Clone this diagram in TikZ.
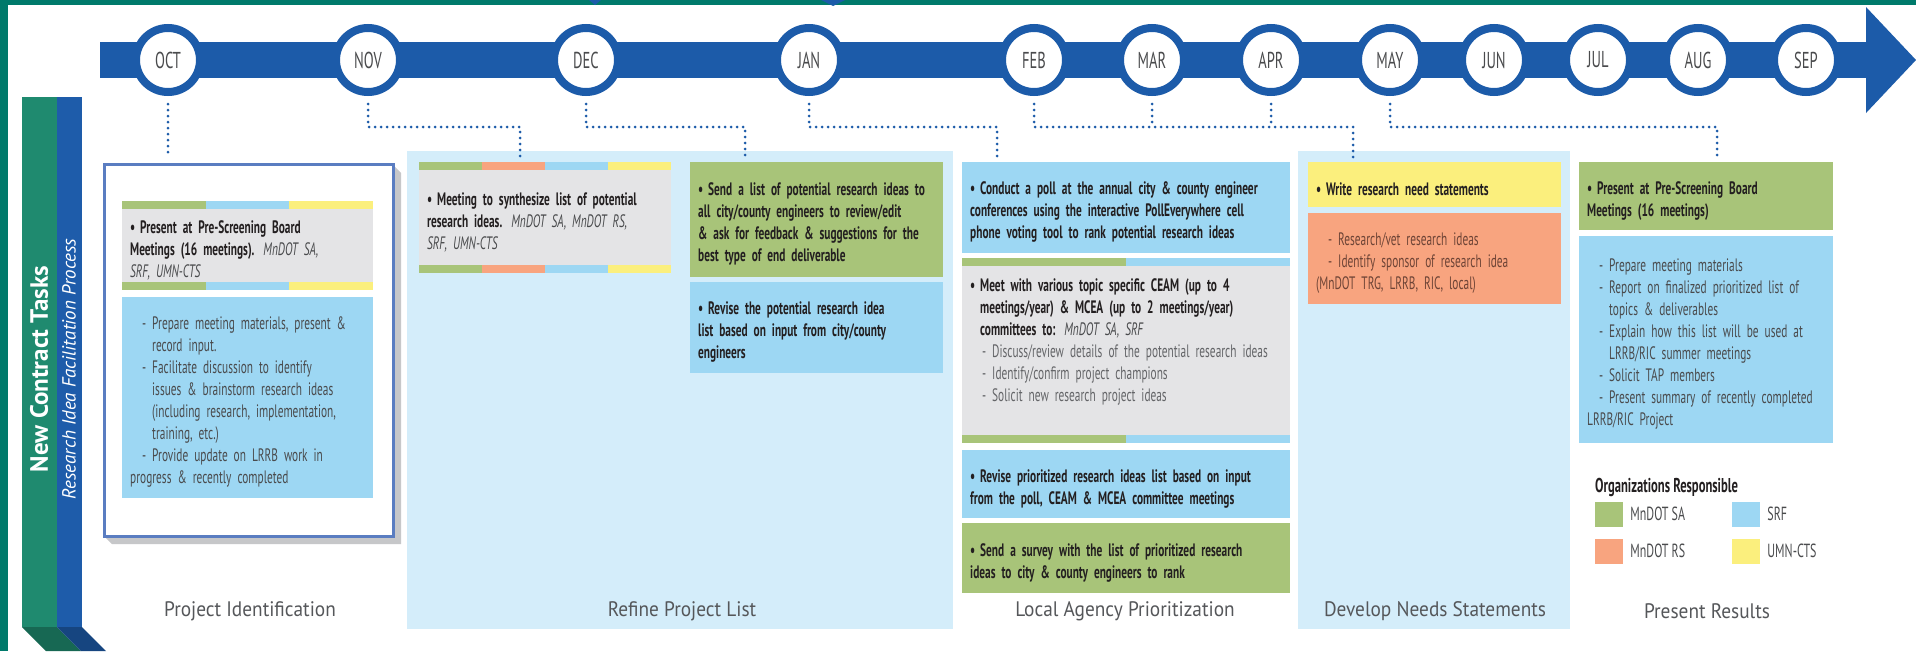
\documentclass[tikz,border=0pt]{standalone}
\usepackage{fontspec}
\setmainfont{PT Sans}
\newfontfamily\condfont[FakeStretch=0.63]{PT Sans}
\newfontfamily\labfont[FakeStretch=0.92]{PT Sans}
\usetikzlibrary{positioning}

\definecolor{frameteal}{HTML}{007A6B}
\definecolor{lineblue}{HTML}{1C5BA9}
\definecolor{bandgreen}{HTML}{1F8A6F}
\definecolor{bandblue}{HTML}{1E5CAA}
\definecolor{panelblue}{HTML}{D4EDFA}
\definecolor{srf}{HTML}{9DD7F3}
\definecolor{mnsa}{HTML}{A8C479}
\definecolor{mnrs}{HTML}{F8A47F}
\definecolor{umn}{HTML}{FBEF7D}
\definecolor{boxgrey}{HTML}{E4E4E6}
\definecolor{rimblue}{HTML}{5A7DC1}
\definecolor{rimshade}{HTML}{C6C7C9}
\definecolor{txtdark}{HTML}{231F20}
\definecolor{txtgrey}{HTML}{4A4B4D}
\definecolor{txtlight}{HTML}{646568}
\definecolor{txtbrown}{HTML}{6E4436}
\definecolor{phasegrey}{HTML}{55575A}

\hyphenpenalty=10000
\exhyphenpenalty=10000
% bullet and dash items with hanging indent
\newcommand\bitem{\par\hangindent=10pt\hangafter=1\noindent\makebox[10pt][l]{\textbullet}}
\newcommand\ditem{\par\hangindent=22pt\hangafter=1\noindent\hspace*{12pt}\makebox[10pt][l]{-}}
\newcommand\orgs[1]{{\mdseries\itshape\color{txtgrey}#1}}

\begin{document}
\begin{tikzpicture}[x=1pt,y=-1pt,
month/.style = {% month bubbles on the time line
    circle, draw=lineblue, line width=8pt, fill=white,
    minimum size=64pt, inner sep=0pt, text=txtgrey,
    font=\fontsize{23}{23}\condfont,
               },
dots/.style = {lineblue, line width=3pt, line cap=round,
    dash pattern=on 0pt off 6pt},
task/.style = {% coloured task boxes
    anchor=north west, inner xsep=8pt, inner ysep=0pt,
    align=left, text=txtdark,
    font=\fontsize{18}{22}\condfont\bfseries,
              },
note/.style = {task, text=txtgrey, font=\fontsize{18}{22}\condfont},
phase/.style = {text=phasegrey, font=\fontsize{21}{21}\labfont},
swatch/.style = {minimum width=28pt, minimum height=25pt, inner sep=0pt},
legtext/.style = {text=txtgrey, font=\fontsize{19}{19}\condfont, inner sep=0pt},
                    ]
\useasboundingbox (0,0) rectangle (1916,651);
\fill[white] (0,0) rectangle (1916,651);

% outer frame
\fill[frameteal] (0,0) rectangle (1916,5);
\fill[frameteal] (0,0) rectangle (8,651);
\fill[lineblue] (589,0) -- (601,0) -- (595,5) -- cycle;
\fill[lineblue] (821,0) -- (845,0) -- (833,6) -- cycle;

% side bands
\fill[bandgreen] (22,97) rectangle (57,627);
\fill[bandblue] (57,97) rectangle (82,627);
\fill[bandgreen!75!black] (22,627) -- (57,627) -- (81,651) -- (46,651) -- cycle;
\fill[bandblue!75!black] (57,627) -- (82,627) -- (106,651) -- (81,651) -- cycle;
\node[rotate=90, text=white, font=\fontsize{25}{25}\selectfont\bfseries]
  (tasks) at (39,369) {New Contract Tasks};
\node[rotate=90, text=white, font=\fontsize{19}{19}\selectfont\itshape]
  (process) at (69,369) {Research Idea Facilitation Process};

% phase panels
\fill[panelblue] (407,151) rectangle (953,629);
\fill[panelblue] (1298,151) rectangle (1570,629);

% time line
\fill[lineblue] (100,42) rectangle (1870,78);
\fill[lineblue] (1866,7) -- (1916,60) -- (1866,113) -- cycle;
\foreach \m/\x in {OCT/168,NOV/368,DEC/586,JAN/809,FEB/1034,MAR/1152,
    APR/1271,MAY/1390,JUN/1494,JUL/1598,AUG/1698,SEP/1806}
  \node[month] (\m) at (\x,60) {\m};

% Project Identification
\fill[rimshade] (394,166) -- (401,173) -- (401,544) -- (112,544)
  -- (105,537) -- (394,537) -- cycle;
\node[draw=rimblue, line width=3pt, fill=white, anchor=north west,
  minimum width=289pt, minimum height=372pt, inner sep=0pt] (frame) at (103,163) {};
\node[task, fill=boxgrey, text width=235pt, minimum height=89pt] (idpsb) at (122,201)
  {\bitem Present at Pre-Screening Board\newline Meetings (16 meetings). \orgs{MnDOT SA,}\newline
   \orgs{SRF, UMN-CTS}};
\foreach \c [count=\i from 0] in {mnsa,srf,umn} {
  \fill[\c] (122+\i*83.67,201) rectangle ++(83.67,8);
  \fill[\c] (122+\i*83.67,282) rectangle ++(83.67,8);
}
\node[note, fill=srf, text width=235pt, minimum height=201pt] (idprep) at (122,297)
  {\ditem Prepare meeting materials, present \&\newline record input.
   \ditem Facilitate discussion to identify\newline issues \& brainstorm research ideas\newline
   (including research, implementation,\newline training, etc.)
   \ditem Provide update on LRRB work in\newline progress \& recently completed};

% Refine Project List
\node[task, fill=boxgrey, text width=236pt, minimum height=111pt] (refmeet) at (419,162)
  {\bitem Meeting to synthesize list of potential\newline research ideas. \orgs{MnDOT SA, MnDOT RS,}\newline
   \orgs{SRF, UMN-CTS}};
\foreach \c [count=\i from 0] in {mnsa,mnrs,srf,umn} {
  \fill[\c] (419+\i*63,162) rectangle ++(63,8);
  \fill[\c] (419+\i*63,265) rectangle ++(63,8);
}
\node[task, fill=mnsa, text width=237pt, minimum height=115pt] (refsend) at (690,162)
  {\bitem Send a list of potential research ideas to\newline all city/county engineers to review/edit\newline
   \& ask for feedback \& suggestions for the\newline best type of end deliverable};
\node[task, fill=srf, text width=237pt, minimum height=91pt] (refrevise) at (690,282)
  {\bitem Revise the potential research idea\newline list based on input from city/county\newline engineers};

% Local Agency Prioritization
\node[task, fill=srf, text width=312pt, minimum height=91pt] (locpoll) at (962,162)
  {\bitem Conduct a poll at the annual city \& county engineer\newline
   conferences using the interactive PollEverywhere cell\newline
   phone voting tool to rank potential research ideas};
\node[task, fill=boxgrey, text width=312pt, minimum height=185pt] (locmeet) at (962,258)
  {\bitem Meet with various topic specific CEAM (up to 4\newline
   meetings/year) \& MCEA (up to 2 meetings/year)\newline committees to: \orgs{MnDOT SA, SRF}
   \par\mdseries\color{txtlight}
   \ditem Discuss/review details of the potential research ideas
   \ditem Identify/confirm project champions
   \ditem Solicit new research project ideas\par\vspace*{26pt}};
\foreach \c [count=\i from 0] in {mnsa,srf} {
  \fill[\c] (962+\i*164,258) rectangle ++(164,8);
  \fill[\c] (962+\i*164,435) rectangle ++(164,8);
}
\node[task, fill=srf, text width=312pt, minimum height=68pt] (locrevise) at (962,450)
  {\bitem Revise prioritized research ideas list based on input\newline
   from the poll, CEAM \& MCEA committee meetings};
\node[task, fill=mnsa, text width=312pt, minimum height=70pt] (locsurvey) at (962,523)
  {\bitem Send a survey with the list of prioritized research\newline
   ideas to city \& county engineers to rank};

% Develop Needs Statements
\node[task, fill=umn, text width=237pt, minimum height=45pt] (devwrite) at (1308,162)
  {\bitem Write research need statements};
\node[note, fill=mnrs, text=txtbrown, text width=237pt, minimum height=91pt] (devvet) at (1308,213)
  {\ditem Research/vet research ideas
   \ditem Identify sponsor of research idea\newline (MnDOT TRG, LRRB, RIC, local)};

% Present Results
\node[task, fill=mnsa, text width=238pt, minimum height=68pt] (prespsb) at (1579,162)
  {\bitem Present at Pre-Screening Board\newline Meetings (16 meetings)};
\node[note, fill=srf, text width=238pt, minimum height=207pt] (presprep) at (1579,236)
  {\ditem Prepare meeting materials
   \ditem Report on finalized prioritized list of\newline topics \& deliverables
   \ditem Explain how this list will be used at\newline LRRB/RIC summer meetings
   \ditem Solicit TAP members
   \ditem Present summary of recently completed\newline LRRB/RIC Project};

% legend
\node[anchor=west, inner sep=0pt, text=txtdark, font=\fontsize{20}{20}\condfont\bfseries]
  (legtitle) at (1595,487) {Organizations Responsible};
\node[swatch, fill=mnsa] (keysa) at (1609,514) {};
\node[legtext, right=7pt of keysa] (keysat) {MnDOT SA};
\node[swatch, fill=srf] (keysrf) at (1746,514) {};
\node[legtext, right=7pt of keysrf] (keysrft) {SRF};
\node[swatch, fill=mnrs] (keyrs) at (1609,551) {};
\node[legtext, right=7pt of keyrs] (keyrst) {MnDOT RS};
\node[swatch, fill=umn] (keyumn) at (1746,551) {};
\node[legtext, right=7pt of keyumn] (keyumnt) {UMN-CTS};

% phase names
\node[phase] (phid) at (250,611) {Project Identification};
\node[phase] (phref) at (682,611) {Refine Project List};
\node[phase] (phloc) at (1125,611) {Local Agency Prioritization};
\node[phase] (phdev) at (1435,611) {Develop Needs Statements};
\node[phase] (phpres) at (1707,611) {Present Results};

% dotted links from the months to the boxes
\coordinate (bendnov) at (520,127);
\coordinate (benddec) at (745,127);
\coordinate (bendjan) at (997,127);
\coordinate (bendfeb) at (1353,127);
\coordinate (bendmay) at (1717,127);
\draw[dots, shorten <=8pt, shorten >=6pt] (OCT.south) -- (OCT |- frame.north);
\draw[dots, shorten <=8pt, shorten >=5pt] (NOV.south) |- (bendnov) -- (bendnov |- refmeet.north);
\draw[dots, shorten <=8pt, shorten >=5pt] (DEC.south) |- (benddec) -- (benddec |- refsend.north);
\draw[dots, shorten <=8pt, shorten >=5pt] (JAN.south) |- (bendjan) -- (bendjan |- locpoll.north);
\draw[dots, shorten <=8pt, shorten >=5pt] (FEB.south) |- (bendfeb) -- (bendfeb |- devwrite.north);
\draw[dots, shorten <=8pt] (MAR.south) -- (MAR |- bendfeb);
\draw[dots, shorten <=8pt] (APR.south) -- (APR |- bendfeb);
\draw[dots, shorten <=8pt, shorten >=5pt] (MAY.south) |- (bendmay) -- (bendmay |- prespsb.north);

\end{tikzpicture}
\end{document}
